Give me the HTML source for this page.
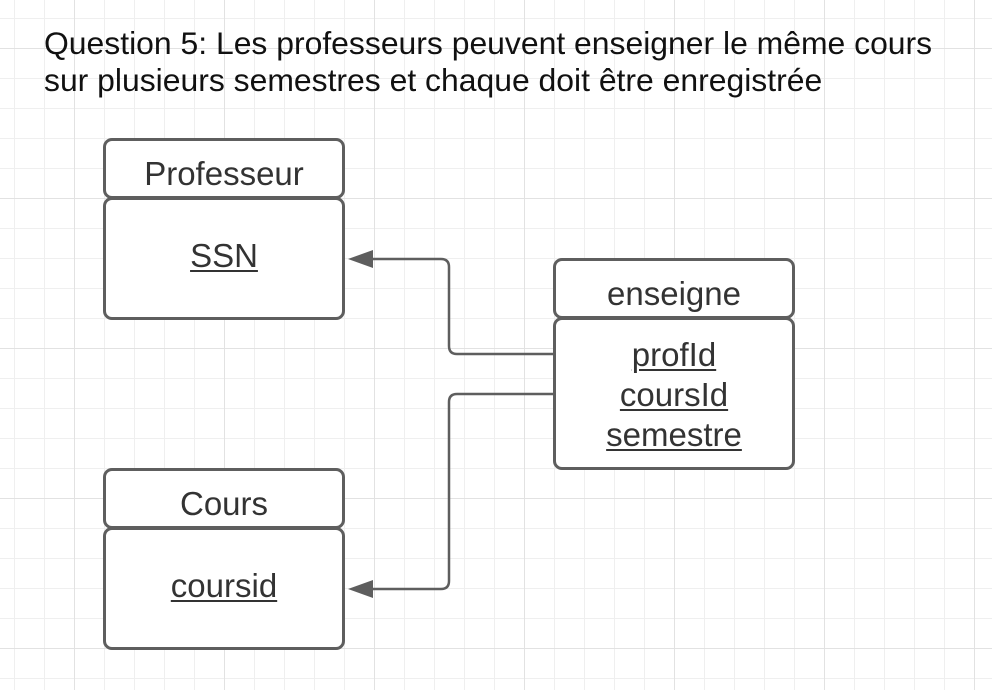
<!DOCTYPE html>
<html><head><meta charset="utf-8"><style>
html,body{margin:0;padding:0;background:#fff;}
body{width:992px;height:690px;overflow:hidden;position:relative;font-family:"Liberation Sans",Arial,sans-serif;}
.grid{position:absolute;left:0;top:0;width:992px;height:690px;
background-image:
linear-gradient(to right,#e2e2e2 1px,transparent 1px),
linear-gradient(to bottom,#e2e2e2 1px,transparent 1px),
linear-gradient(to right,#efefef 1px,transparent 1px),
linear-gradient(to bottom,#efefef 1px,transparent 1px);
background-size:150px 150px,150px 150px,30px 30px,30px 30px;
background-position:74px 48px,74px 48px,14px 18px,14px 18px;}
.t{position:absolute;left:44px;font-size:31.9px;color:#111;white-space:nowrap;}
.b{position:absolute;box-sizing:border-box;border:3.5px solid #5e5e5e;border-radius:9px;background:#fff;text-align:center;color:#333;font-size:33px;}
.u{text-decoration:underline;text-decoration-thickness:2px;text-underline-offset:3px;}
</style></head><body>
<div class="grid"></div>
<div class="t" style="top:25px">Question 5: Les professeurs peuvent enseigner le même cours</div>
<div class="t" style="top:62px">sur plusieurs semestres et chaque doit être enregistrée</div>

<div class="b" style="left:103px;top:138px;width:242px;height:61px;line-height:66px">Professeur</div>
<div class="b" style="left:103px;top:197px;width:242px;height:123px;padding-top:38px;line-height:36px"><span class="u">SSN</span></div>

<div class="b" style="left:553px;top:258px;width:242px;height:61px;line-height:66px">enseigne</div>
<div class="b" style="left:553px;top:317px;width:242px;height:153px;padding-top:15px;line-height:40px"><span class="u">profId</span><br><span class="u">coursId</span><br><span class="u">semestre</span></div>

<div class="b" style="left:103px;top:468px;width:242px;height:61px;line-height:66px">Cours</div>
<div class="b" style="left:103px;top:527px;width:242px;height:123px;padding-top:38px;line-height:36px"><span class="u">coursid</span></div>

<svg width="992" height="690" style="position:absolute;left:0;top:0">
<g fill="none" stroke="#5e5e5e" stroke-width="2.5">
<path d="M553 354 H457 Q449 354 449 346 V267 Q449 259 441 259 H370"/>
<path d="M553 394 H457 Q449 394 449 402 V581 Q449 589 441 589 H370"/>
</g>
<polygon points="348,259 373,250 373,268" fill="#5e5e5e"/>
<polygon points="348,589 373,580 373,598" fill="#5e5e5e"/>
</svg>
</body></html>
